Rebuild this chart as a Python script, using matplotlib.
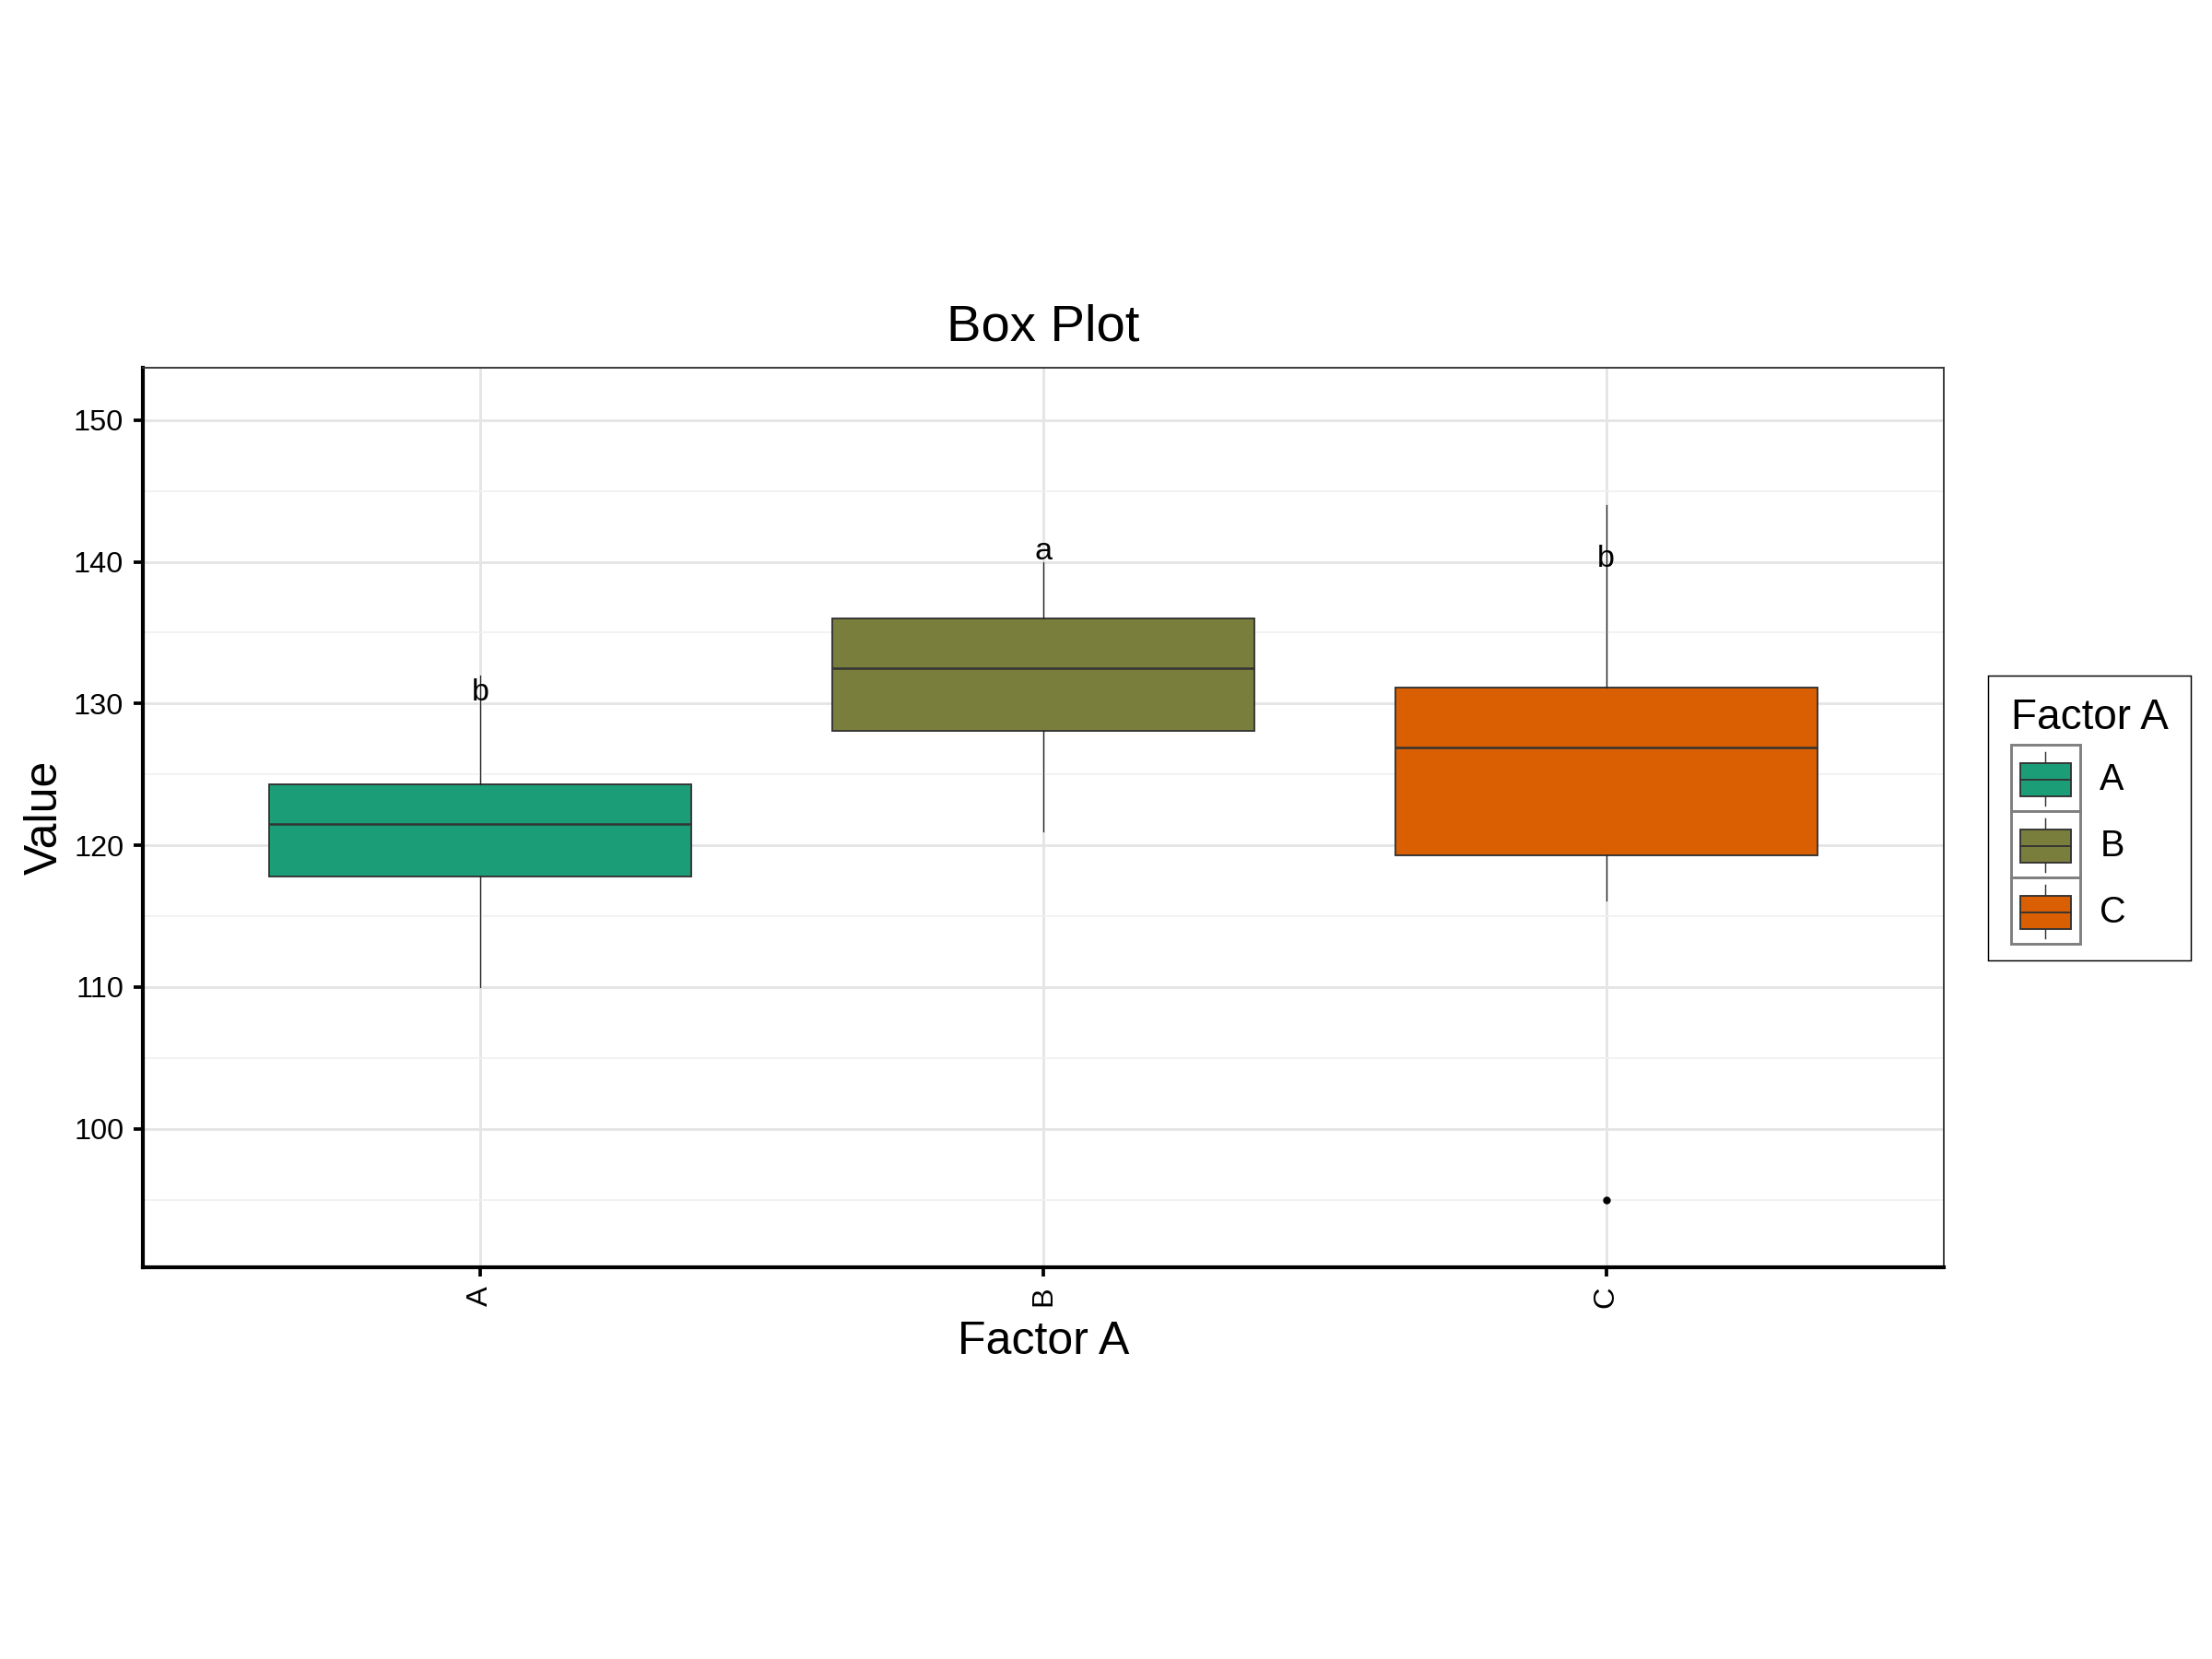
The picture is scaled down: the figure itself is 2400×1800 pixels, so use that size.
import matplotlib
matplotlib.use("Agg")
import matplotlib.pyplot as plt
from matplotlib.patches import Patch, Rectangle
from matplotlib.lines import Line2D
from matplotlib.legend_handler import HandlerBase

plt.rcParams['font.family'] = ['Liberation Sans', 'DejaVu Sans']

# ------------------------------------------------
# box statistics
groups = ['A', 'B', 'C']
q1 = [117.8, 128.1, 119.3]
med = [121.5, 132.5, 126.9]
q3 = [124.3, 136.0, 131.1]
whislo = [110.0, 121.0, 116.1]
whishi = [132.0, 140.0, 144.0]
fliers = [[], [], [95.0]]
letters = ['b', 'a', 'b']
letter_y = [130.8, 140.7, 140.2]
colors = ['#1B9E77', '#7A7E3C', '#D95F02']


class BoxKeyHandler(HandlerBase):
    # ggplot-like boxplot key with grey key border
    def __init__(self, ext):
        super().__init__()
        self.ext = ext

    def create_artists(self, legend, orig_handle, xdescent, ydescent,
                       width, height, fontsize, trans):
        x0 = -xdescent
        y0 = -ydescent - self.ext
        w = width
        h = height + 2 * self.ext
        border = Rectangle((x0, y0), w, h, facecolor='white',
                           edgecolor='#7F7F7F', lw=0.7, transform=trans)
        bx0 = x0 + 0.143 * w
        bw = 0.723 * w
        by0 = y0 + 0.23 * h
        bh = 0.5 * h
        box = Rectangle((bx0, by0), bw, bh, facecolor=orig_handle.get_facecolor(),
                        edgecolor='#333333', lw=0.45, transform=trans)
        xc = x0 + w / 2
        my = y0 + 0.48 * h
        median = Line2D([bx0, bx0 + bw], [my, my], color='#333333', lw=0.45, transform=trans)
        wt = Line2D([xc, xc], [by0 + bh, y0 + 0.89 * h], color='#333333', lw=0.35, transform=trans)
        wb = Line2D([xc, xc], [y0 + 0.085 * h, by0], color='#333333', lw=0.35, transform=trans)
        return [border, wt, wb, box, median]


fig = plt.figure(figsize=(8, 6), dpi=300)
ax = fig.add_axes([155 / 2400, 1 - 1375 / 1800, (2109 - 155) / 2400, (1375 - 399) / 1800])

stats = []
for i in range(len(groups)):
    stats.append({'label': groups[i], 'q1': q1[i], 'med': med[i], 'q3': q3[i],
                  'whislo': whislo[i], 'whishi': whishi[i], 'fliers': fliers[i]})

pos = list(range(1, len(groups) + 1))
bp = ax.bxp(stats, positions=pos, widths=0.75, patch_artist=True, showcaps=False,
            boxprops=dict(edgecolor='#333333', linewidth=0.45),
            medianprops=dict(color='#333333', linewidth=0.6),
            whiskerprops=dict(color='#222222', linewidth=0.3),
            flierprops=dict(marker='o', markersize=1.0, markerfacecolor='black',
                            markeredgecolor='black'))
for patch, c in zip(bp['boxes'], colors):
    patch.set_facecolor(c)

for p, lab, y in zip(pos, letters, letter_y):
    ax.text(p, y, lab, ha='center', va='center', fontsize=8.2, color='black', zorder=5)

ax.set_xticks(pos)
ax.set_xticklabels(groups, rotation=90, fontsize=7.8)
ax.set_yticks([100, 110, 120, 130, 140, 150])
ax.set_yticks([95, 105, 115, 125, 135, 145], minor=True)
ax.set_xlim(0.4, 3.6)
ax.set_ylim(90.23, 153.69)
ax.tick_params(axis='both', which='major', direction='out', length=2.5, width=0.9,
               color='black', labelsize=7.8, labelcolor='black', pad=2.5)
ax.tick_params(axis='y', which='minor', length=0)
ax.tick_params(axis='x', which='minor', bottom=False)

ax.set_axisbelow(True)
ax.grid(True, which='major', color='#E5E5E5', linewidth=0.7)
ax.grid(True, which='minor', axis='y', color='#F0F0F0', linewidth=0.4)

for s in ['top', 'right']:
    ax.spines[s].set_color('#333333')
    ax.spines[s].set_linewidth(0.45)
for s in ['left', 'bottom']:
    ax.spines[s].set_color('black')
    ax.spines[s].set_linewidth(1.0)

ax.set_title('Box Plot', fontsize=13.5, pad=7)
ax.set_xlabel('Factor A', fontsize=12, labelpad=3.2)
ax.set_ylabel('Value', fontsize=12, labelpad=2)

# ------------------------------------------------
# legend
fs = 9.5
lsp = 0.34
handles = [Patch(facecolor=c) for c in colors]
leg = ax.legend(handles, groups, title='Factor A', loc='center left',
                bbox_to_anchor=(2157 / 2400, 0.507), bbox_transform=fig.transFigure,
                frameon=True, fancybox=False, edgecolor='black', framealpha=1,
                fontsize=fs, title_fontsize=11, handlelength=1.895, handleheight=1.9,
                labelspacing=lsp, handletextpad=0.55, borderpad=0.62, borderaxespad=0,
                alignment='left', handler_map={Patch: BoxKeyHandler(lsp * fs / 2)})
leg.get_frame().set_linewidth(0.35)

fig.savefig('out.png', dpi=300)
